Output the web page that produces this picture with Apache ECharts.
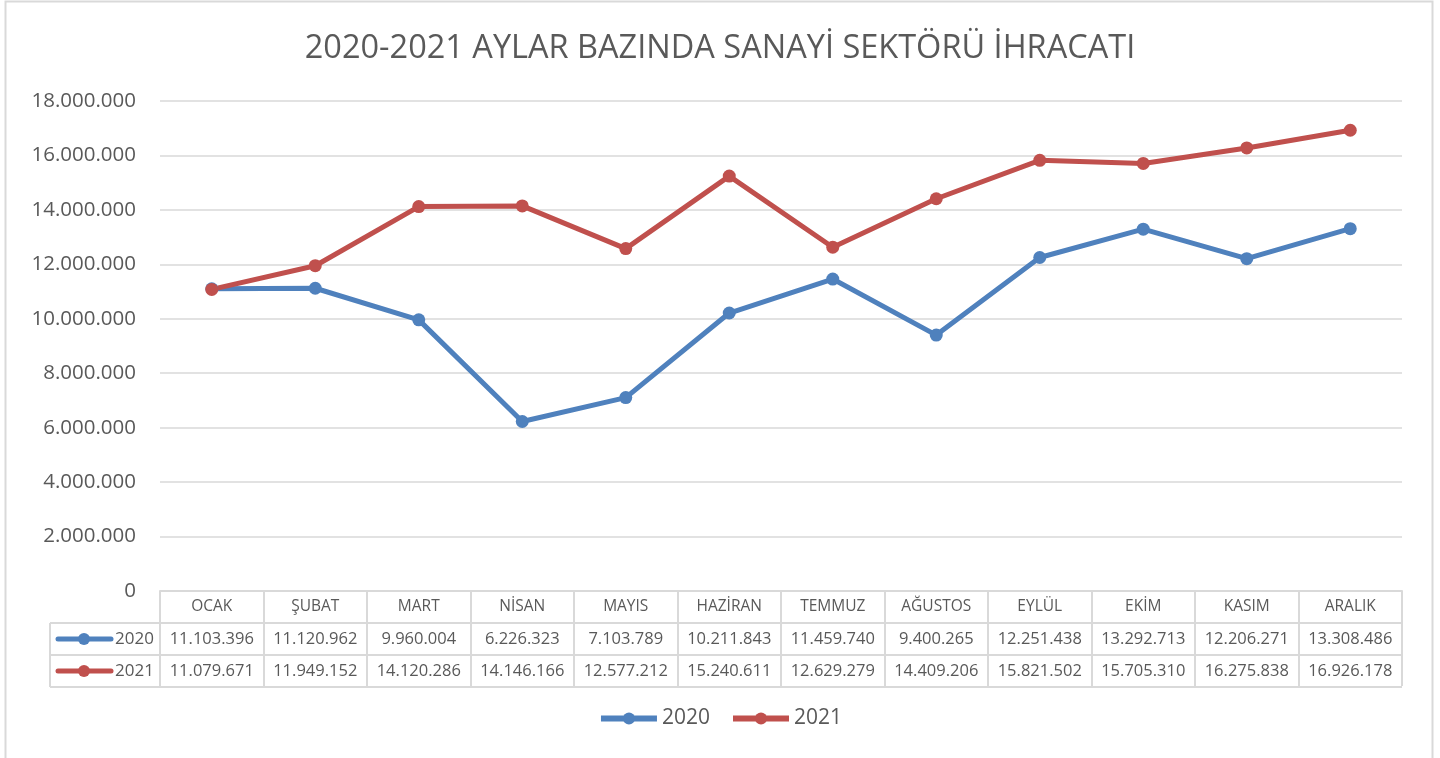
<!DOCTYPE html>
<html>
<head>
<meta charset="utf-8">
<script src="https://cdn.jsdelivr.net/npm/echarts@6/dist/echarts.min.js"></script>
<style>
  html, body { margin: 0; padding: 0; background: #fff; }
  #chart { width: 1440px; height: 758px; }
</style>
</head>
<body>
<div id="chart"></div>
<script>
const months = ['OCAK', 'ŞUBAT', 'MART', 'NİSAN', 'MAYIS', 'HAZİRAN', 'TEMMUZ', 'AĞUSTOS', 'EYLÜL', 'EKİM', 'KASIM', 'ARALIK']
const exports2020 = [11103396, 11120962, 9960004, 6226323, 7103789, 10211843, 11459740, 9400265, 12251438, 13292713, 12206271, 13308486]
const exports2021 = [11079671, 11949152, 14120286, 14146166, 12577212, 15240611, 12629279, 14409206, 15821502, 15705310, 16275838, 16926178]
const seriesNames = ['2020', '2021']
const yTicks = [0, 2000000, 4000000, 6000000, 8000000, 10000000, 12000000, 14000000, 16000000, 18000000]

const BLUE = '#4f81bd', RED = '#c0504d', TXT = '#595959', LINE = '#d9d9d9'
const FONT = '"Open Sans", sans-serif'

// Turkish style thousands separator
const fmt = (v) => String(v).replace(/\B(?=(\d{3})+(?!\d))/g, '.')

const chart = echarts.init(document.getElementById('chart'))

chart.setOption({
  animation: false,
  textStyle: { fontFamily: FONT, color: TXT },
  title: {
    text: '2020-2021 AYLAR BAZINDA SANAYİ SEKTÖRÜ İHRACATI',
    left: 'center', top: 27,
    textStyle: { fontSize: 32.5, fontWeight: 'normal', color: TXT, fontFamily: FONT }
  },
  legend: {
    bottom: 24, left: 'center',
    itemWidth: 56, itemHeight: 15, itemGap: 20,
    lineStyle: { width: 6 },
    textStyle: { fontSize: 21, color: TXT },
    data: seriesNames
  },
  grid: { left: 160, right: 38, top: 101, bottom: 167 },
  xAxis: {
    type: 'category',
    data: months,
    axisLine: { show: true, lineStyle: { color: LINE, width: 2 } },
    axisTick: { show: true, length: 95, interval: 0, lineStyle: { color: LINE, width: 2 } },
    axisLabel: {
      interval: 0, margin: 0,
      formatter: (m, i) => `{m|${m}}\n{v|${fmt(exports2020[i])}}\n{v|${fmt(exports2021[i])}}`,
      rich: {
        m: { fontSize: 15.5, lineHeight: 32, color: TXT, fontFamily: FONT },
        v: { fontSize: 16.5, lineHeight: 32, color: TXT, fontFamily: FONT }
      }
    }
  },
  yAxis: {
    type: 'value', min: yTicks[0], max: yTicks[yTicks.length - 1], interval: yTicks[1] - yTicks[0],
    axisLine: { show: false }, axisTick: { show: false },
    axisLabel: { fontSize: 20.5, color: TXT, margin: 24, formatter: (v) => fmt(v) },
    splitLine: { lineStyle: { color: LINE, width: 1.5 } }
  },
  series: [
    {
      name: seriesNames[0], type: 'line', data: exports2020,
      symbol: 'circle', symbolSize: 13,
      lineStyle: { color: BLUE, width: 5 }, itemStyle: { color: BLUE }
    },
    {
      name: seriesNames[1], type: 'line', data: exports2021,
      symbol: 'circle', symbolSize: 13,
      lineStyle: { color: RED, width: 5 }, itemStyle: { color: RED }
    }
  ]
})

// data table frame + row headers, anchored to the axis
const step = chart.convertToPixel({ xAxisIndex: 0 }, 1) - chart.convertToPixel({ xAxisIndex: 0 }, 0)
const x0 = chart.convertToPixel({ xAxisIndex: 0 }, 0) - step / 2
const x1 = chart.convertToPixel({ xAxisIndex: 0 }, months.length - 1) + step / 2
const yBase = chart.convertToPixel({ yAxisIndex: 0 }, 0)
const rowH = 32
const left = 50
const lineEl = (xa, ya, xb, yb) => ({ type: 'line', shape: { x1: xa, y1: ya, x2: xb, y2: yb }, style: { stroke: LINE, lineWidth: 2 } })
const rowHeader = (i, color) => {
  const cy = yBase + rowH * (i + 1) + rowH / 2
  return [
    { type: 'line', shape: { x1: 58, y1: cy, x2: 111, y2: cy }, style: { stroke: color, lineWidth: 5, lineCap: 'round' } },
    { type: 'circle', shape: { cx: 84, cy: cy, r: 6 }, style: { fill: color } },
    { type: 'text', x: 154, y: cy, style: { text: seriesNames[i], align: 'right', verticalAlign: 'middle', font: `17px ${FONT}`, fill: TXT } }
  ]
}
chart.setOption({
  graphic: [
    { type: 'rect', shape: { x: 5.5, y: 1.5, width: 1427, height: 800 }, style: { fill: 'none', stroke: LINE, lineWidth: 2 } },
    lineEl(left, yBase + rowH, x1, yBase + rowH),
    lineEl(left, yBase + rowH * 2, x1, yBase + rowH * 2),
    lineEl(left, yBase + rowH * 3, x1, yBase + rowH * 3),
    lineEl(left, yBase + rowH, left, yBase + rowH * 3),
    lineEl(x0, yBase, x0, yBase + rowH * 3),
    ...rowHeader(0, BLUE),
    ...rowHeader(1, RED)
  ]
})
</script>
</body>
</html>
